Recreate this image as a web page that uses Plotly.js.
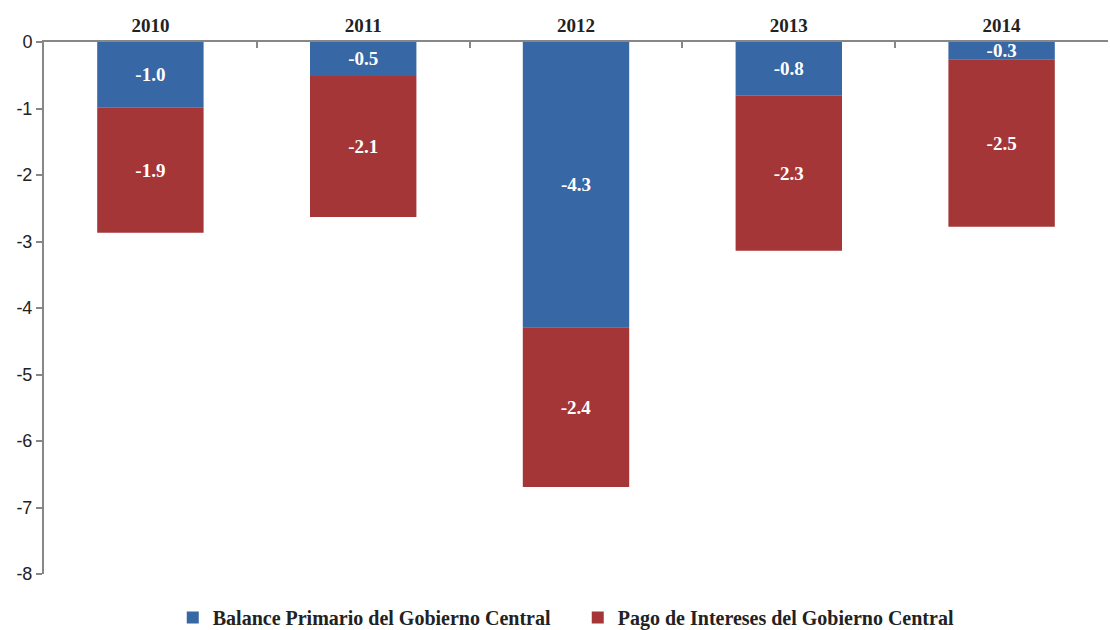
<!DOCTYPE html>
<html>
<head>
<meta charset="utf-8">
<script src="https://cdn.plot.ly/plotly-3.0.1.min.js"></script>
<style>html,body{margin:0;padding:0;background:#fff;}#chart{width:1110px;height:630px;}</style>
</head>
<body>
<div id="chart"></div>
<script>
var years = ['2010', '2011', '2012', '2013', '2014'];
var balancePrimario = [-0.99, -0.51, -4.29, -0.81, -0.26];
var pagoIntereses = [-1.88, -2.12, -2.40, -2.33, -2.52];
var seriesNames = ['Balance Primario del Gobierno Central', 'Pago de Intereses del Gobierno Central'];
var yTicks = [0, -1, -2, -3, -4, -5, -6, -7, -8];

var labelFont = {family: 'Liberation Serif, Times New Roman, serif', size: 19, color: '#ffffff', weight: 'bold'};

var traces = [
  {
    type: 'bar', x: years, y: balancePrimario, name: seriesNames[0],
    marker: {color: '#3767a4'},
    texttemplate: '<b>%{y:.1f}</b>', textposition: 'inside', insidetextanchor: 'middle',
    textfont: labelFont, constraintext: 'none', hoverinfo: 'skip'
  },
  {
    type: 'bar', x: years, y: pagoIntereses, name: seriesNames[1],
    marker: {color: '#a43637'},
    texttemplate: '<b>%{y:.1f}</b>', textposition: 'inside', insidetextanchor: 'middle',
    textfont: labelFont, constraintext: 'none', hoverinfo: 'skip'
  }
];

var layout = {
  width: 1110, height: 630,
  margin: {l: 44, r: 2, t: 42, b: 56},
  paper_bgcolor: '#ffffff', plot_bgcolor: '#ffffff',
  barmode: 'relative',
  bargap: 0.5,
  showlegend: true,
  legend: {
    orientation: 'h', xref: 'container', yref: 'container',
    x: 0.5205, xanchor: 'center', y: 0.02, yanchor: 'middle',
    font: {family: 'Liberation Serif, Times New Roman, serif', size: 20, color: '#222', weight: 'bold'},
    traceorder: 'normal', itemwidth: 20, entrywidth: 360, itemclick: false
  },
  xaxis: {
    type: 'category', side: 'top', range: [-0.5, 4.5],
    showline: true, linecolor: '#878787', linewidth: 2,
    ticks: 'inside', tickson: 'boundaries', ticklen: 6, tickcolor: '#878787', tickwidth: 2,
    tickfont: {family: 'Liberation Serif, Times New Roman, serif', size: 19, color: '#222', weight: 'bold'},
    showgrid: false, zeroline: false, fixedrange: true
  },
  yaxis: {
    range: [-8, 0], tickvals: yTicks, ticktext: yTicks.map(String),
    showline: true, linecolor: '#878787', linewidth: 2,
    ticks: 'outside', ticklen: 6, tickcolor: '#878787', tickwidth: 2,
    tickfont: {family: 'Liberation Sans, Arial, sans-serif', size: 18, color: '#222'},
    showgrid: false, zeroline: false, fixedrange: true
  }
};

Plotly.newPlot('chart', traces, layout, {displayModeBar: false, staticPlot: true});
</script>
</body>
</html>
